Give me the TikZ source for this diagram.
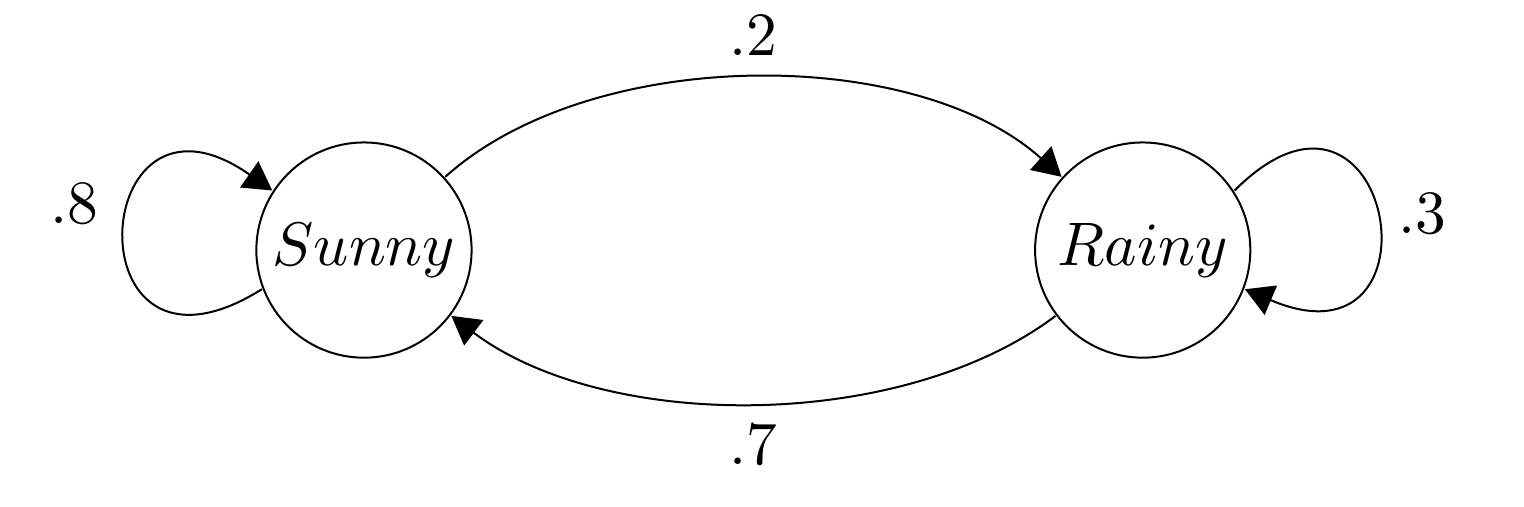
\documentclass[tikz,border=0pt]{standalone}
\usepackage{tikz}
\usetikzlibrary{arrows.meta,positioning}

\begin{document}
\begin{tikzpicture}
[scale=1.75,auto,transform shape,
edge/.style={-{Triangle[length=8pt,width=9pt]}, line width=.2mm},
state/.style={draw=black,circle,line width=.2mm,minimum size=1.23cm,inner sep=0pt}]
\useasboundingbox (-2.080,-1.463) rectangle (6.629,1.429);
\node (sunny) [state] at (0,0) {$Sunny$};
\node (rainy) [state,right=3.2cm of sunny] {$Rainy$};
%%
\draw[edge] (sunny) to[out=42,in=138,looseness=.82] node[above] {$.2$} (rainy);
\draw[edge] (rainy) to[out=-143,in=-37,looseness=.82] node[below] {$.7$} (sunny);
%%
\draw[edge] (sunny.201) to[out=212,in=145,looseness=5.85] node[left=2pt,pos=.6] {$.8$} (sunny.147);
\draw[edge] (rainy.33) to[out=45,in=-23,looseness=5.75] node[right] {$.3$} (rainy.-21);
%%
\end{tikzpicture}
\end{document}
